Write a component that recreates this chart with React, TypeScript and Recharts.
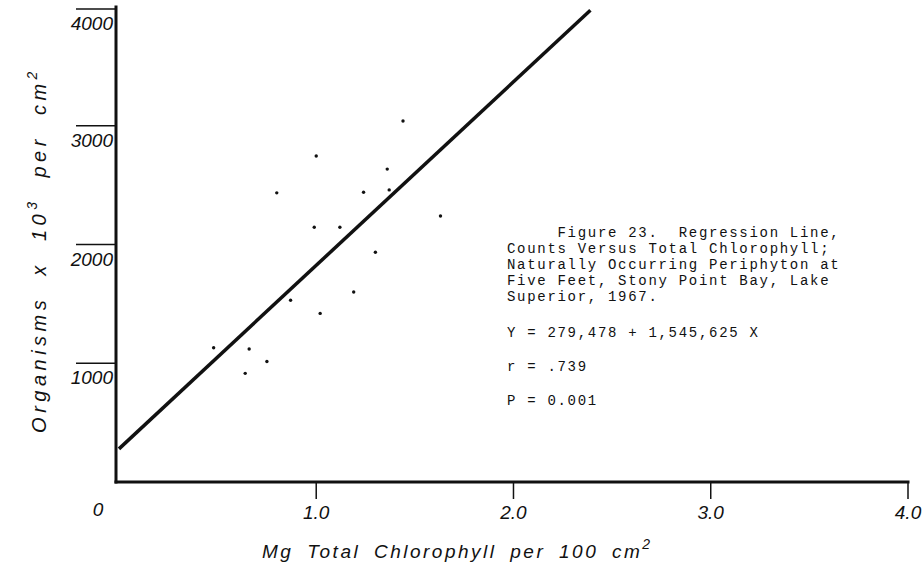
import React from 'react';
import { ScatterChart, Scatter, XAxis, YAxis } from 'recharts';

// field samples
const chlorophyll = [1.44, 1.0, 1.36, 0.8, 1.24, 1.37, 1.63, 0.99, 1.12, 1.3, 1.19, 0.87, 1.02, 0.48, 0.66, 0.75, 0.64];
const organisms = [3040, 2745, 2635, 2435, 2440, 2460, 2240, 2145, 2145, 1935, 1600, 1530, 1420, 1130, 1120, 1015, 915];

// ends of the drawn regression line
const lineX = [0, 2.39];
const lineY = [279, 3973];

const xTicks = [0, 1, 2, 3, 4];
const yTicks = [1000, 2000, 3000, 4000];

const caption = [
  '     Figure 23.  Regression Line,',
  'Counts Versus Total Chlorophyll;',
  'Naturally Occurring Periphyton at',
  'Five Feet, Stony Point Bay, Lake',
  'Superior, 1967.',
];
const stats = ['Y = 279,478 + 1,545,625 X', 'r = .739', 'P = 0.001'];

const points = chlorophyll.map((x, i) => ({ x, y: organisms[i] }));
const line = lineX.map((x, i) => ({ x, y: lineY[i] }));

const ink = '#111';
const hand = { fontFamily: '"Liberation Sans", Arial, sans-serif', fontStyle: 'italic' as const };
const typewriter = {
  fontFamily: '"Liberation Mono", "DejaVu Sans Mono", monospace',
  letterSpacing: 1.7,
  whiteSpace: 'pre' as const,
};

const XTick = (props: any) => {
  const { x, y, payload } = props;
  const v = payload.value;
  if (v === 0) {
    return (
      <text x={x - 21} y={y + 34} textAnchor="middle" fontSize={19} fill={ink} style={hand}>
        0
      </text>
    );
  }
  return (
    <g>
      <line x1={x} y1={y} x2={x} y2={y + 17} stroke={ink} strokeWidth={1.5} />
      <text x={x} y={y + 37} textAnchor="middle" fontSize={19} fill={ink} style={hand}>
        {v.toFixed(1)}
      </text>
    </g>
  );
};

const YTick = (props: any) => {
  const { x, y, payload } = props;
  return (
    <g>
      <line x1={x - 40} y1={y} x2={x} y2={y} stroke={ink} strokeWidth={1.3} />
      <text x={x - 3} y={y + 21} textAnchor="end" fontSize={19} fill={ink} style={hand}>
        {payload.value}
      </text>
    </g>
  );
};

const Dot = (props: any) => <circle cx={props.cx} cy={props.cy} r={1.7} fill={ink} />;
const NoDot = () => <g />;

export default function App() {
  return (
    <div style={{ position: 'absolute', left: 0, top: 0, width: 924, height: 572, background: '#fff' }}>
      <ScatterChart width={924} height={572} margin={{ top: 7, right: 16, bottom: 30, left: 0 }}>
        <XAxis
          type="number"
          dataKey="x"
          domain={[-0.015, 4]}
          ticks={xTicks}
          height={60}
          tickSize={0}
          tickMargin={0}
          tickLine={false}
          tick={<XTick />}
          axisLine={{ stroke: ink, strokeWidth: 3, strokeLinecap: 'square' }}
          allowDataOverflow
        />
        <YAxis
          type="number"
          dataKey="y"
          domain={[0, 4000]}
          ticks={yTicks}
          width={116}
          tickSize={0}
          tickMargin={0}
          tickLine={false}
          tick={<YTick />}
          axisLine={{ stroke: ink, strokeWidth: 3, strokeLinecap: 'square' }}
        />
        <Scatter data={line} line={{ stroke: ink, strokeWidth: 3.5 }} shape={NoDot} isAnimationActive={false} />
        <Scatter data={points} shape={Dot} isAnimationActive={false} />
      </ScatterChart>
      <svg width={924} height={572} style={{ position: 'absolute', left: 0, top: 0, pointerEvents: 'none' }}>
        <text
          transform="translate(46 250) rotate(-90)"
          textAnchor="middle"
          fontSize={20}
          fill={ink}
          style={{ ...hand, letterSpacing: 4.5, wordSpacing: 10 }}
        >
          Organisms x 10
          <tspan dy={-9} fontSize={14}>3</tspan>
          <tspan dy={9}> per cm</tspan>
          <tspan dy={-9} fontSize={14}>2</tspan>
        </text>
        <text x={262} y={558} fontSize={19} fill={ink} style={{ ...hand, letterSpacing: 2.5, wordSpacing: 6 }}>
          Mg Total Chlorophyll per 100 cm
          <tspan dy={-9} fontSize={14}>2</tspan>
        </text>
        {caption.map((s, i) => (
          <text key={s} x={507} y={237 + i * 16} fontSize={14} fill={ink} xmlSpace="preserve" style={typewriter}>
            {s}
          </text>
        ))}
        {stats.map((s, i) => (
          <text key={s} x={507} y={337 + i * 34} fontSize={14} fill={ink} xmlSpace="preserve" style={typewriter}>
            {s}
          </text>
        ))}
      </svg>
    </div>
  );
}
